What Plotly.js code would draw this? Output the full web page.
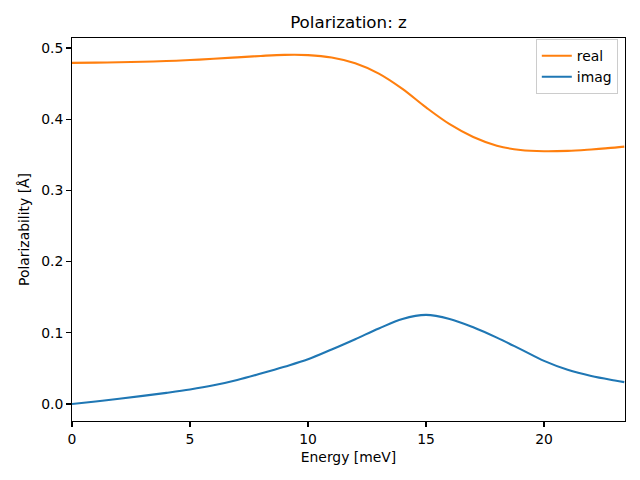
<!DOCTYPE html>
<html>
<head>
<meta charset="utf-8">
<script src="https://cdn.plot.ly/plotly-3.0.1.min.js"></script>
<style>html,body{margin:0;padding:0;background:#fff}#chart{width:640px;height:480px}</style>
</head>
<body>
<div id="chart"></div>
<script>
const energy = [0, 1, 2, 3, 4, 5, 6, 7, 8, 9, 10, 11, 12, 13, 14, 15, 16, 17, 18, 19, 20, 21, 22, 23, 23.4];
const realVals = [0.4790, 0.4794, 0.4799, 0.4806, 0.4816, 0.4830, 0.4848, 0.4868, 0.4888, 0.4903, 0.4900, 0.4866, 0.4785, 0.4640, 0.4425, 0.4165, 0.3930, 0.3750, 0.3628, 0.3566, 0.3549, 0.3555, 0.3575, 0.3600, 0.3614];
const imagVals = [0.0000, 0.0036, 0.0074, 0.0114, 0.0156, 0.0203, 0.0262, 0.0338, 0.0428, 0.0523, 0.0627, 0.0765, 0.0910, 0.1060, 0.1195, 0.1252, 0.1195, 0.1078, 0.0932, 0.0770, 0.0605, 0.0480, 0.0393, 0.0330, 0.0307];
const xTicks = [0, 5, 10, 15, 20];
const yTicks = [0.0, 0.1, 0.2, 0.3, 0.4, 0.5];

const font = {family: 'DejaVu Sans', size: 13.9, color: '#000'};
const traces = [
  {x: energy, y: realVals, name: 'real', mode: 'lines', line: {color: '#ff7f0e', width: 2.1, shape: 'spline', smoothing: 1}},
  {x: energy, y: imagVals, name: 'imag', mode: 'lines', line: {color: '#1f77b4', width: 2.1, shape: 'spline', smoothing: 1}}
];
const axisBase = {showgrid: false, zeroline: false, showline: true, linecolor: '#000', linewidth: 1.1, mirror: true, ticks: 'outside', ticklen: 4.9, tickwidth: 1.1, tickcolor: '#000', tickfont: font};
const layout = {
  width: 640, height: 480,
  margin: {l: 72, r: 15, t: 38, b: 59},
  paper_bgcolor: '#fff', plot_bgcolor: '#fff',
  font: font,
  title: {text: 'Polarization: z', font: {family: 'DejaVu Sans', size: 16.7, color: '#000'}, x: 0.5, xref: 'paper', y: 0.953, yanchor: 'middle'},
  xaxis: Object.assign({}, axisBase, {range: [0, 23.43], tickvals: xTicks, ticktext: xTicks.map(String), title: {text: 'Energy [meV]', font: font, standoff: 6}}),
  yaxis: Object.assign({}, axisBase, {range: [-0.0239, 0.5140], tickvals: yTicks, ticktext: yTicks.map(v => v.toFixed(1)), title: {text: 'Polarizability [Å]', font: font, standoff: 8}}),
  showlegend: true,
  legend: {x: 0.987, y: 0.997, xanchor: 'right', yanchor: 'top', bgcolor: 'rgba(255,255,255,0.8)', bordercolor: '#cccccc', borderwidth: 1, font: font, tracegroupgap: 0, itemwidth: 30}
};
Plotly.newPlot('chart', traces, layout, {displayModeBar: false, staticPlot: true});
</script>
</body>
</html>
